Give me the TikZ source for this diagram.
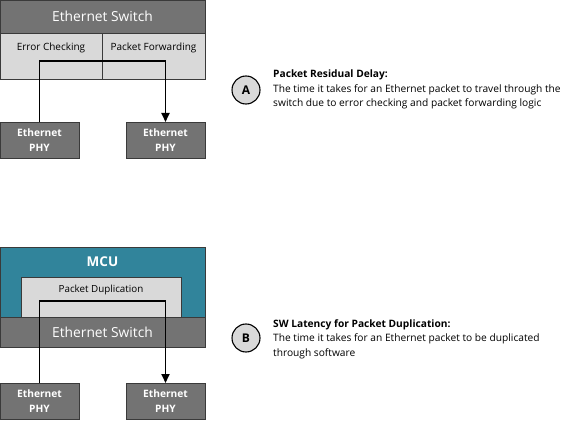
\documentclass[tikz,border=0pt]{standalone}
\usepackage{fontspec}
\setmainfont{Open Sans}
\usepackage{tikz}
\usetikzlibrary{arrows.meta}
\definecolor{swgray}{HTML}{737373}
\definecolor{boxgray}{HTML}{D9D9D9}
\definecolor{mcuteal}{HTML}{31849B}
\definecolor{edgegray}{HTML}{3A3A3A}

\begin{document}
\begin{tikzpicture}[x=1pt, y=-1pt,
  darkbox/.style={draw=edgegray, fill=swgray, text=white, inner sep=0pt, outer sep=0pt, anchor=north west},
  lightbox/.style={draw=edgegray, fill=boxgray, inner sep=0pt, outer sep=0pt, anchor=north west},
  phy/.style={darkbox, minimum width=79pt, minimum height=36pt, align=center, font=\fontsize{10.2}{15}\selectfont\bfseries},
  letterdisc/.style={draw, circle, fill=boxgray, line width=1.1pt, minimum size=28pt, inner sep=0pt, font=\fontsize{12}{14}\selectfont\bfseries},
  note/.style={anchor=north west, align=left, inner sep=0pt, font=\fontsize{10.2}{14.5}\selectfont},
  packet/.style={line width=1.8pt, -{Triangle[length=9pt, width=8pt]}}]
\useasboundingbox (0,0) rectangle (586,422);

% upper case: residual delay in the switch
\node[darkbox, minimum width=205pt, minimum height=33pt, font=\fontsize{13.8}{16}\selectfont] (switchA) at (0,0) {Ethernet Switch};
\node[lightbox, minimum width=102pt, minimum height=46pt,
  label={[anchor=north, yshift=-6pt, font=\fontsize{10}{12}\selectfont]north:Error Checking}] (errchk) at (0,33) {};
\node[lightbox, minimum width=103pt, minimum height=46pt,
  label={[anchor=north, yshift=-6pt, font=\fontsize{10}{12}\selectfont]north:Packet Forwarding}] (fwd) at (102,33) {};
\node[phy] (phyA) at (0,122) {Ethernet\\PHY};
\node[phy] (phyB) at (126,122) {Ethernet\\PHY};
\coordinate (turnA) at (phyA.north |- 0,61);
\draw[packet] (phyA.north) -- (turnA) -| (phyB.north);

\node[letterdisc] (discA) at (246,90) {A};
\node[note] (noteA) at (273,70) {\textbf{Packet Residual Delay:}\\The time it takes for an Ethernet packet to travel through the\\switch due to error checking and packet forwarding logic};

% lower case: duplication in software on the MCU
\node[darkbox, fill=mcuteal, minimum width=205pt, minimum height=70pt] (mcu) at (0,247) {};
\node[text=white, font=\fontsize{13.5}{16}\selectfont\bfseries] (mcutitle) at (102.5,262) {MCU};
\node[lightbox, minimum width=160pt, minimum height=40pt,
  label={[anchor=north, yshift=-5pt, font=\fontsize{9.8}{12}\selectfont]north:Packet Duplication}] (dup) at (21,277) {};
\node[darkbox, minimum width=205pt, minimum height=30pt, font=\fontsize{13.8}{16}\selectfont] (switchB) at (0,317) {Ethernet Switch};
\node[phy] (phyC) at (0,383) {Ethernet\\PHY};
\node[phy] (phyD) at (126,383) {Ethernet\\PHY};
\coordinate (turnB) at (phyC.north |- 0,301);
\draw[packet] (phyC.north) -- (turnB) -| (phyD.north);

\node[letterdisc] (discB) at (246,338) {B};
\node[note] (noteB) at (273,319) {\textbf{SW Latency for Packet Duplication:}\\The time it takes for an Ethernet packet to be duplicated\\through software};
\end{tikzpicture}
\end{document}
